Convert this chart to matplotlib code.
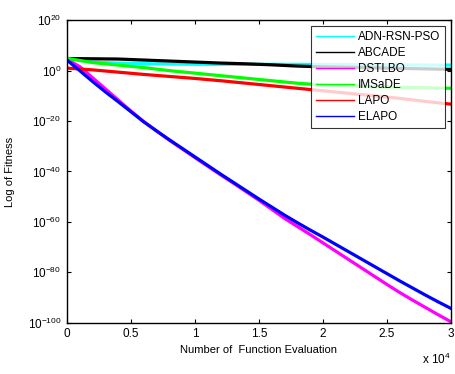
import matplotlib
matplotlib.use("Agg")
import matplotlib.pyplot as plt
import numpy as np
from matplotlib.lines import Line2D

plt.rcParams['font.family'] = ['Liberation Sans', 'DejaVu Sans']
plt.rcParams['axes.unicode_minus'] = False
plt.rcParams['mathtext.default'] = 'regular'

# --- Data: log10(fitness) vs number of function evaluations ---
evals_fine = [0, 1000, 2000, 3000, 4000, 5000, 6000, 7000, 8000, 9000, 10000,
              11000, 12000, 13000, 14000, 15000, 16000, 17000, 18000, 19000, 20000,
              21000, 22000, 23000, 24000, 25000, 26000, 27000, 28000, 29000, 30000]
evals_coarse = [0, 2000, 4000, 6000, 8000, 10000, 12000, 14000, 16000,
                18000, 20000, 22000, 24000, 26000, 28000, 30000]

adn_rsn_pso = [4.8, 3.4, 3.0, 2.8, 2.6, 2.5, 2.5, 2.5, 2.5,
               2.5, 2.4, 2.4, 2.3, 2.3, 2.2, 2.2]
abcade = [4.8, 4.7, 4.6, 4.2, 3.8, 3.4, 3.0, 2.7, 2.3,
          1.8, 1.5, 1.3, 1.1, 0.9, 0.7, 0.5]
dstlbo = [4.5, 1.6, -2.8, -7.2, -11.6, -16.0, -20.2, -23.9, -27.6, -31.0, -34.5,
          -37.9, -41.3, -44.6, -48.0, -51.4, -55.0, -58.6, -61.8, -65.0, -68.3,
          -71.6, -74.9, -78.2, -81.5, -84.8, -88.0, -91.0, -93.9, -96.8, -99.6]
imsade = [4.9, 3.2, 2.2, 1.2, 0.0, -1.0, -2.0, -3.0, -4.0,
          -5.0, -5.7, -6.1, -6.4, -6.6, -6.8, -7.0]
lapo = [1.0, 0.3, -0.6, -1.5, -2.3, -3.1, -4.0, -5.0, -6.0,
        -7.0, -8.0, -9.0, -10.0, -11.0, -12.2, -13.3]
elapo = [4.2, 0.0, -4.3, -8.4, -12.3, -16.3, -20.3, -23.9, -27.4, -30.8, -34.2,
         -37.6, -41.0, -44.3, -47.6, -50.9, -54.1, -57.3, -60.3, -63.2, -66.0,
         -68.9, -71.8, -74.7, -77.6, -80.5, -83.4, -86.2, -89.0, -91.7, -94.3]

series = [
    ("ADN-RSN-PSO", evals_coarse, adn_rsn_pso, "#00FFFF"),
    ("ABCADE", evals_coarse, abcade, "#000000"),
    ("DSTLBO", evals_fine, dstlbo, "#FF00FF"),
    ("IMSaDE", evals_coarse, imsade, "#00FF00"),
    ("LAPO", evals_coarse, lapo, "#FF0000"),
    ("ELAPO", evals_fine, elapo, "#0000FF"),
]

fig = plt.figure(figsize=(4.55, 3.74), dpi=100)
ax = fig.add_axes([0.147, 0.137, 0.844, 0.809])

for name, x, y, c in series:
    ax.semilogy(x, 10.0 ** np.array(y), color=c, lw=2.3, label=name)

ax.set_xlim(0, 30000)
ax.set_ylim(1e-100, 1e20)
ax.set_xticks([0, 5000, 10000, 15000, 20000, 25000, 30000])
ax.set_xticklabels(["0", "0.5", "1", "1.5", "2", "2.5", "3"])
ax.set_yticks([10.0 ** k for k in range(-100, 21, 20)])
ax.set_yticklabels([r"$10^{%d}$" % k for k in range(-100, 21, 20)])
ax.minorticks_off()
ax.tick_params(direction='in', top=True, right=True, labelsize=8.5, length=3, pad=4)
for s in ax.spines.values():
    s.set_linewidth(1.0)

ax.set_xlabel("Number of  Function Evaluation", fontsize=8)
ax.set_ylabel("Log of Fitness", fontsize=8)
ax.xaxis.set_label_coords(0.5, -0.075)
ax.yaxis.set_label_coords(-0.135, 0.5)
fig.text(0.928, 0.028, r"x $10^{4}$", fontsize=8.5)

handles = [Line2D([], [], color=c, lw=1) for _, _, _, c in series]
leg = ax.legend(handles, [s[0] for s in series], loc='upper right',
                fontsize=8.5, frameon=True, fancybox=False, edgecolor='black',
                handlelength=3.2, handletextpad=0.35, labelspacing=0.35,
                borderaxespad=0.5, borderpad=0.4)
leg.get_frame().set_linewidth(0.8)

fig.savefig("out.png", dpi=100)
